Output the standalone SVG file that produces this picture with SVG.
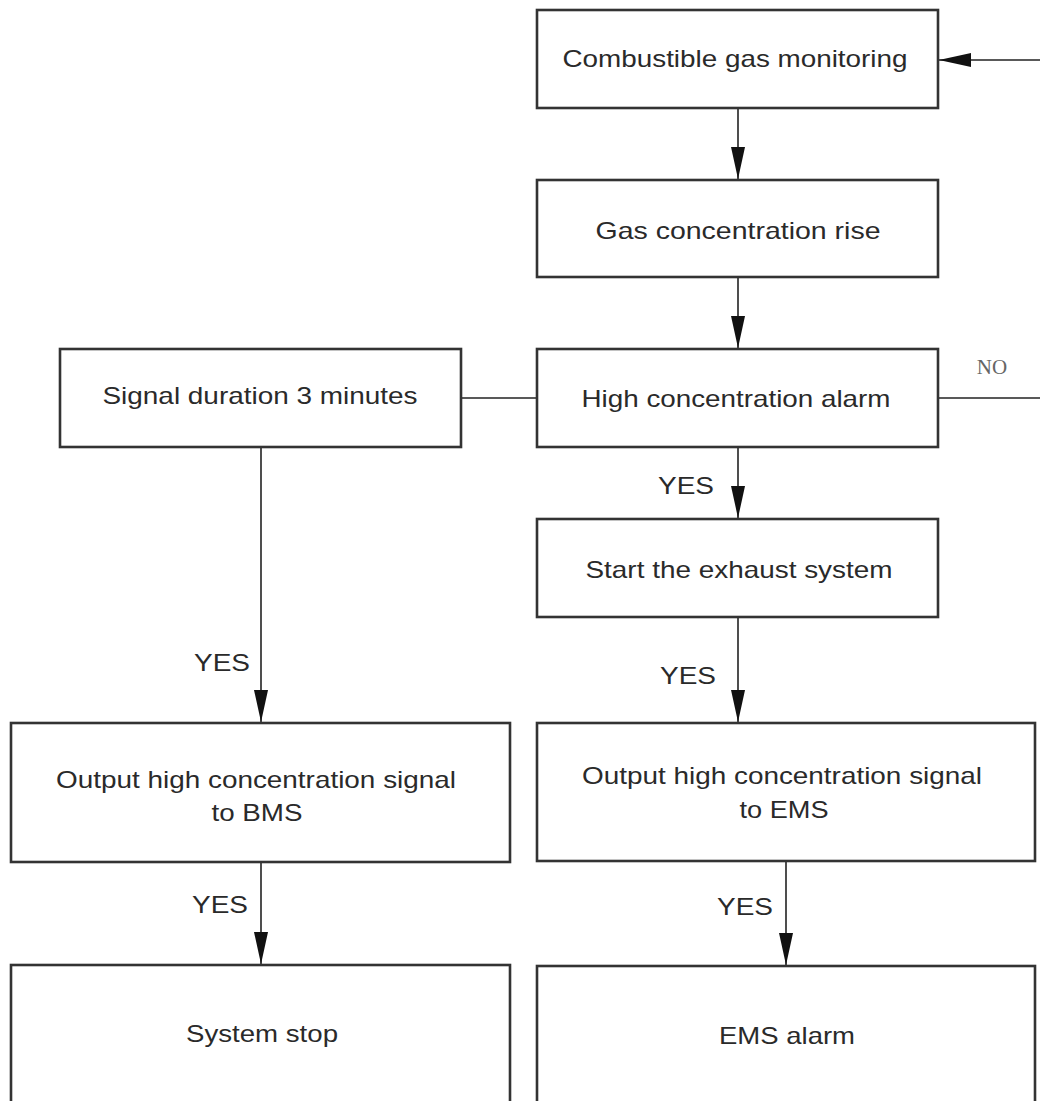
<svg xmlns="http://www.w3.org/2000/svg" width="1040" height="1101" viewBox="0 0 1040 1101">
<style>
.box{fill:#fff;stroke:#333;stroke-width:2.6}
.t{font-family:"Liberation Sans",Arial,sans-serif;font-size:24px;fill:#2a2a2a;text-anchor:middle}
.lbl{font-family:"Liberation Sans",Arial,sans-serif;font-size:24px;fill:#2a2a2a;text-anchor:middle}
.no{font-family:"Liberation Serif","Times New Roman",serif;font-size:21px;fill:#666;text-anchor:middle}
.c{stroke:#222;stroke-width:1.6;fill:none}
</style>
<defs>
<marker id="ah" markerUnits="userSpaceOnUse" markerWidth="34" markerHeight="16" refX="32" refY="7" orient="auto">
<path d="M0,0 L32,7 L0,14 z" fill="#111"/>
</marker>
</defs>
<rect width="1040" height="1101" fill="#fff"/>
<g id="connectors">
<line class="c" x1="1040" y1="60" x2="939" y2="60" marker-end="url(#ah)"/>
<line class="c" x1="738" y1="108" x2="738" y2="179" marker-end="url(#ah)"/>
<line class="c" x1="738" y1="277" x2="738" y2="348" marker-end="url(#ah)"/>
<line class="c" x1="461" y1="398" x2="537" y2="398"/>
<line class="c" x1="938" y1="398" x2="1040" y2="398"/>
<line class="c" x1="738" y1="447" x2="738" y2="518" marker-end="url(#ah)"/>
<line class="c" x1="738" y1="617" x2="738" y2="722" marker-end="url(#ah)"/>
<line class="c" x1="261" y1="447" x2="261" y2="722" marker-end="url(#ah)"/>
<line class="c" x1="261" y1="862" x2="261" y2="964" marker-end="url(#ah)"/>
<line class="c" x1="786" y1="861" x2="786" y2="965" marker-end="url(#ah)"/>
<text class="no" x="992" y="374">NO</text>
<text class="lbl" x="686" y="494" textLength="56" lengthAdjust="spacingAndGlyphs">YES</text>
<text class="lbl" x="688" y="684" textLength="56" lengthAdjust="spacingAndGlyphs">YES</text>
<text class="lbl" x="222" y="671" textLength="56" lengthAdjust="spacingAndGlyphs">YES</text>
<text class="lbl" x="220" y="913" textLength="56" lengthAdjust="spacingAndGlyphs">YES</text>
<text class="lbl" x="745" y="915" textLength="56" lengthAdjust="spacingAndGlyphs">YES</text>
</g>
<g id="n1">
<rect class="box" x="537" y="10" width="401" height="98"/>
<text class="t" x="735" y="67" textLength="345" lengthAdjust="spacingAndGlyphs">Combustible gas monitoring</text>
</g>
<g id="n2">
<rect class="box" x="537" y="180" width="401" height="97"/>
<text class="t" x="738" y="239" textLength="285" lengthAdjust="spacingAndGlyphs">Gas concentration rise</text>
</g>
<g id="n3">
<rect class="box" x="537" y="349" width="401" height="98"/>
<text class="t" x="736" y="407" textLength="309" lengthAdjust="spacingAndGlyphs">High concentration alarm</text>
</g>
<g id="n4">
<rect class="box" x="60" y="349" width="401" height="98"/>
<text class="t" x="260" y="404" textLength="315" lengthAdjust="spacingAndGlyphs">Signal duration 3 minutes</text>
</g>
<g id="n5">
<rect class="box" x="537" y="519" width="401" height="98"/>
<text class="t" x="739" y="578" textLength="307" lengthAdjust="spacingAndGlyphs">Start the exhaust system</text>
</g>
<g id="n6">
<rect class="box" x="11" y="723" width="499" height="139"/>
<text class="t" x="256" y="788" textLength="400" lengthAdjust="spacingAndGlyphs">Output high concentration signal</text>
<text class="t" x="257" y="821" textLength="91" lengthAdjust="spacingAndGlyphs">to BMS</text>
</g>
<g id="n7">
<rect class="box" x="537" y="723" width="498" height="138"/>
<text class="t" x="782" y="784" textLength="400" lengthAdjust="spacingAndGlyphs">Output high concentration signal</text>
<text class="t" x="784" y="818" textLength="89" lengthAdjust="spacingAndGlyphs">to EMS</text>
</g>
<g id="n8">
<rect class="box" x="11" y="965" width="499" height="160"/>
<text class="t" x="262" y="1042" textLength="152" lengthAdjust="spacingAndGlyphs">System stop</text>
</g>
<g id="n9">
<rect class="box" x="537" y="966" width="498" height="160"/>
<text class="t" x="787" y="1044" textLength="136" lengthAdjust="spacingAndGlyphs">EMS alarm</text>
</g>
</svg>
